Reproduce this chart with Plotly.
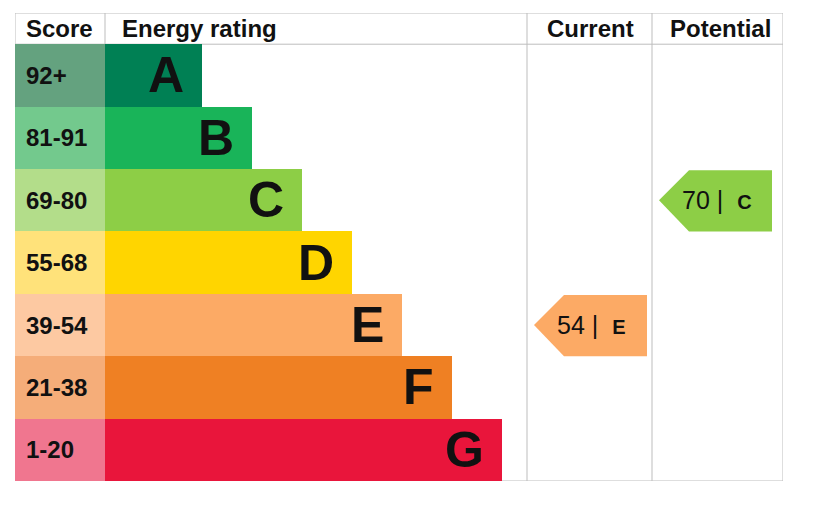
import plotly.graph_objects as go

# ---- data ----
bands = ["A", "B", "C", "D", "E", "F", "G"]
score_ranges = ["92+", "81-91", "69-80", "55-68", "39-54", "21-38", "1-20"]
band_colors = ["#008054", "#19b459", "#8dce46", "#ffd500", "#fcaa65", "#ef8023", "#e9153b"]
score_colors = ["#64a27f", "#73c98d", "#b3dd8a", "#ffe27a", "#fdc9a2", "#f5ad79", "#f0768f"]
headers = ["Score", "Energy rating", "Current", "Potential"]
current_score = 54
current_band = "E"
potential_score = 70
potential_band = "C"

# ---- layout constants (pixel-like units) ----
SCORE_W = 90
BAR_BASE = 97
BAR_STEP = 50
CUR_X0, CUR_X1 = 512, 637
POT_X0, POT_X1 = 637, 768
GRID = "#bdbdbd"
FONT = "Liberation Sans, Arial, sans-serif"
TXT = "#111111"

rows = list(range(len(bands)))
bar_len = [BAR_BASE + BAR_STEP * i for i in rows]

fig = go.Figure()
fig.add_trace(go.Bar(
    y=rows, x=[SCORE_W] * len(rows), base=0, orientation="h", width=1,
    marker=dict(color=score_colors, line=dict(width=0)), hoverinfo="skip", showlegend=False))
fig.add_trace(go.Bar(
    y=rows, x=bar_len, base=SCORE_W, orientation="h", width=1,
    marker=dict(color=band_colors, line=dict(width=0)), hoverinfo="skip", showlegend=False))

annotations = []
for i in rows:
    annotations.append(dict(x=9, y=i, text=f"<b>{score_ranges[i]}</b>", showarrow=False,
                            xanchor="left", yanchor="middle",
                            font=dict(family=FONT, size=24, color=TXT)))
    annotations.append(dict(x=SCORE_W + bar_len[i] - 16, y=i, text=f"<b>{bands[i]}</b>",
                            showarrow=False, xanchor="right", yanchor="middle",
                            font=dict(family=FONT, size=50, color=TXT)))


def add_arrow(col_x0, score, band):
    r = bands.index(band)
    tip = col_x0 + 7
    notch = tip + 30
    right = tip + 113
    top, bot = r - 0.48, r + 0.5
    fig.add_trace(go.Scatter(
        x=[notch, tip, notch, right, right, notch], y=[top, r, bot, bot, top, top],
        mode="lines", fill="toself", fillcolor=band_colors[r], line=dict(width=0),
        hoverinfo="skip", showlegend=False))
    annotations.append(dict(
        x=tip + 21, y=r,
        text=f"{score} |  <b><span style='font-size:20px'>{band}</span></b>",
        showarrow=False, xanchor="left", yanchor="middle",
        font=dict(family=FONT, size=25, color=TXT)))


add_arrow(CUR_X0, current_score, current_band)
add_arrow(POT_X0, potential_score, potential_band)

# headers
hy = -0.75
hsize = 24
annotations.append(dict(x=9, y=hy, text=f"<b>{headers[0]}</b>", showarrow=False, xanchor="left",
                        font=dict(family=FONT, size=hsize, color=TXT)))
annotations.append(dict(x=SCORE_W + 15, y=hy, text=f"<b>{headers[1]}</b>", showarrow=False, xanchor="left",
                        font=dict(family=FONT, size=hsize, color=TXT)))
annotations.append(dict(x=(CUR_X0 + CUR_X1) / 2 + 1, y=hy, text=f"<b>{headers[2]}</b>", showarrow=False,
                        font=dict(family=FONT, size=hsize, color=TXT)))
annotations.append(dict(x=(POT_X0 + POT_X1) / 2 + 3, y=hy, text=f"<b>{headers[3]}</b>", showarrow=False,
                        font=dict(family=FONT, size=hsize, color=TXT)))

n = len(bands)
shapes = []
def line(x0, y0, x1, y1):
    shapes.append(dict(type="line", xref="x", yref="y", x0=x0, y0=y0, x1=x1, y1=y1,
                       line=dict(color=GRID, width=1), layer="below"))

line(0, -1, POT_X1, -1)
line(0, -0.5, POT_X1, -0.5)
line(0, n - 0.5, POT_X1, n - 0.5)
line(0, -1, 0, n - 0.5)
line(SCORE_W, -1, SCORE_W, -0.5)
line(CUR_X0, -1, CUR_X0, n - 0.5)
line(CUR_X1, -1, CUR_X1, n - 0.5)
line(POT_X1, -1, POT_X1, n - 0.5)

fig.update_layout(
    width=824, height=509,
    margin=dict(l=15, r=41, t=13, b=28, pad=0),
    barmode="overlay", bargap=0,
    plot_bgcolor="white", paper_bgcolor="white",
    xaxis=dict(range=[0, 768], visible=False, fixedrange=True),
    yaxis=dict(range=[n - 0.5, -1], visible=False, fixedrange=True),
    annotations=annotations, shapes=shapes, showlegend=False,
)

fig.write_html("out.html", config={"displayModeBar": False},
               post_script="document.body.style.margin='0';")
